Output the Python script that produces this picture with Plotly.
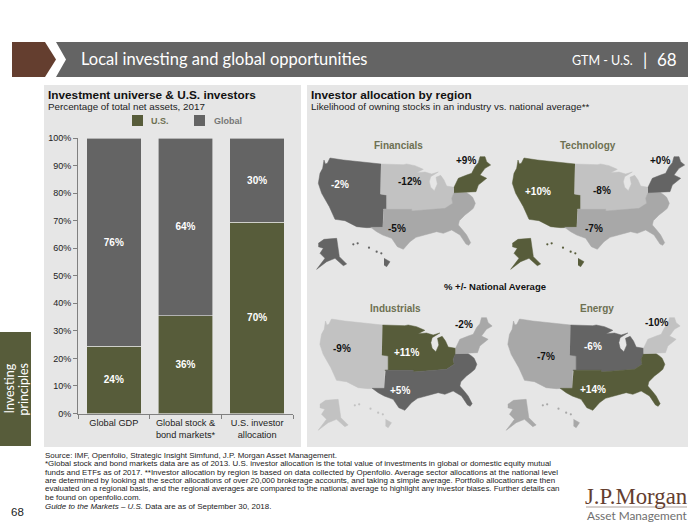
import plotly.graph_objects as go

W, H = 700, 525

# ---------- bar chart data ----------
categories = ["Global GDP", "Global stock &<br>bond markets*", "U.S. investor<br>allocation"]
us_share = [24.5, 35.5, 69.5]
global_share = [75.5, 64.5, 30.5]
us_labels = ["24%", "36%", "70%"]
global_labels = ["76%", "64%", "30%"]
y_ticks = list(range(0, 101, 10))

# ---------- map data: region scores ----------
sectors = ["Financials", "Technology", "Industrials", "Energy"]
regions = ["West", "Midwest", "South", "Northeast"]
financials = [-2, -12, -5, 9]
technology = [10, -8, -7, 0]
industrials = [-9, 11, 5, -2]
energy = [-7, -6, 14, -10]
region_scores = [financials, technology, industrials, energy]
score_labels = [["-2%", "-12%", "-5%", "+9%"], ["+10%", "-8%", "-7%", "+0%"],
                ["-9%", "+11%", "+5%", "-2%"], ["-7%", "-6%", "+14%", "-10%"]]

# ---------- map outlines (traced map units) ----------
west_x = [42, 46, 52, 60, 100, 150, 213, 211, 230, 230, 220, 218, 170, 140, 105, 75, 66, 58, 35, 25, 30, 38, 42]
west_y = [30, 42, 40, 24, 30, 36, 42, 132, 135, 178, 178, 232, 233, 230, 212, 208, 190, 170, 130, 100, 70, 55, 30]
midwest_x = [213, 280, 290, 315, 340, 320, 345, 365, 385, 362, 358, 362, 373, 382, 378, 392, 402, 410, 432, 432, 425, 428, 405, 370, 335, 305, 305, 220, 230, 230, 211]
midwest_y = [42, 44, 42, 47, 58, 68, 66, 72, 66, 80, 95, 112, 122, 102, 82, 76, 90, 108, 112, 130, 145, 160, 175, 178, 182, 183, 178, 178, 178, 135, 132]
south_x = [222, 305, 305, 370, 405, 428, 425, 432, 470, 480, 488, 496, 490, 478, 465, 448, 445, 458, 470, 482, 476, 468, 450, 425, 400, 380, 340, 318, 300, 288, 280, 262, 245, 218, 200, 182, 218]
south_y = [178, 178, 183, 178, 175, 160, 145, 128, 128, 135, 142, 160, 175, 185, 195, 212, 225, 240, 255, 278, 286, 282, 255, 240, 250, 245, 255, 262, 275, 290, 298, 290, 265, 255, 245, 232, 232]
northeast_x = [432, 438, 445, 470, 485, 495, 505, 510, 525, 530, 542, 525, 510, 530, 505, 498, 432]
northeast_y = [112, 98, 85, 75, 70, 50, 38, 20, 20, 35, 45, 55, 75, 85, 105, 125, 128]
alaska_x = [25, 42, 80, 88, 110, 100, 75, 50, 20, 45, 30, 40, 25]
alaska_y = [280, 268, 265, 320, 342, 347, 325, 335, 358, 325, 310, 295, 290]
hawaii_x = [222, 240, 230, 222]
hawaii_y = [325, 335, 350, 345]
island_x = [143, 177, 200, 214, 130]
island_y = [280, 293, 305, 310, 283]
outlines = {"West": (west_x, west_y), "Midwest": (midwest_x, midwest_y),
            "South": (south_x, south_y), "Northeast": (northeast_x, northeast_y)}

# ---------- colours ----------
OLIVE = "#575c3a"
DARK = "#646464"
MID = "#a8a8a8"
LIGHT = "#c2c2c2"
PANEL = "#e6e6e6"
BROWN = "#643e2f"
RANK_COLORS = [OLIVE, DARK, MID, LIGHT]
SANS = "Liberation Sans"
HEAD = "Lato"


def px(x):
    return x / W


def py(y):
    return 1 - y / H


def poly(points):
    return "M" + "L".join(f"{px(x):.5f},{py(y):.5f}" for x, y in points) + "Z"


def text(x, y, s, size=10, color="#000", bold=False, anchor="center", font=SANS, angle=0, yanchor="middle"):
    return dict(x=px(x), y=py(y), xref="paper", yref="paper", text=f"<b>{s}</b>" if bold else s,
                showarrow=False, xanchor=anchor, yanchor=yanchor, textangle=angle,
                font=dict(family=font, size=size, color=color), borderpad=0, borderwidth=0)


fig = go.Figure()

# ---------- stacked bars ----------
fig.add_bar(x=categories, y=us_share, name="U.S.", marker=dict(color=OLIVE, line=dict(color="#e6e6e6", width=0.6)),
            text=us_labels, textposition="inside", insidetextanchor="middle", constraintext="none",
            textfont=dict(family=SANS, size=10, color="white", weight="bold"), hoverinfo="skip",
            xaxis="x", yaxis="y", width=0.76, showlegend=False)
fig.add_bar(x=categories, y=global_share, name="Global", marker=dict(color=DARK, line=dict(color="#e6e6e6", width=0.6)),
            text=global_labels, textposition="inside", insidetextanchor="middle", constraintext="none",
            textfont=dict(family=SANS, size=10, color="white", weight="bold"), hoverinfo="skip",
            xaxis="x", yaxis="y", width=0.76, showlegend=False)

# ---------- four maps ----------
map_offset = [(310, 150), (504, 150), (311.5, 311), (499.5, 311)]
MAP_W, MAP_H = 190, 130
layout_axes = {}
for i, (sector, scores) in enumerate(zip(sectors, region_scores)):
    n = i + 2
    xa, ya = f"x{n}", f"y{n}"
    order = sorted(scores, reverse=True)
    colors = {r: RANK_COLORS[order.index(s)] for r, s in zip(regions, scores)}
    for r in regions:
        mx, my = outlines[r]
        fig.add_scatter(x=mx, y=my, mode="lines", fill="toself", fillcolor=colors[r],
                        line=dict(color=colors[r], width=0.5), showlegend=False, hoverinfo="skip",
                        xaxis=xa, yaxis=ya)
    for mx, my in [(alaska_x, alaska_y), (hawaii_x, hawaii_y)]:
        fig.add_scatter(x=mx, y=my, mode="lines", fill="toself", fillcolor=colors["West"],
                        line=dict(color=colors["West"], width=0.5), showlegend=False, hoverinfo="skip",
                        xaxis=xa, yaxis=ya)
    fig.add_scatter(x=island_x, y=island_y, mode="markers", marker=dict(color=colors["West"], size=2.2),
                    showlegend=False, hoverinfo="skip", xaxis=xa, yaxis=ya)
    ox, oy = map_offset[i]
    off = dict(visible=False, fixedrange=True)
    layout_axes[f"xaxis{n}"] = dict(domain=[px(ox), px(ox + MAP_W)], range=[0, 570], anchor=ya, **off)
    layout_axes[f"yaxis{n}"] = dict(domain=[py(oy + MAP_H), py(oy)], range=[390, 0], anchor=xa, **off)

# ---------- shapes ----------
shapes = [
    dict(type="path", xref="paper", yref="paper", layer="below", line_width=0, fillcolor=BROWN,
         path=poly([(12, 42), (45, 42), (56, 59.5), (45, 77), (12, 77)])),
    dict(type="path", xref="paper", yref="paper", layer="below", line_width=0, fillcolor=DARK,
         path=poly([(56, 42), (688, 42), (688, 77), (56, 77), (66, 59.5)])),
    dict(type="path", xref="paper", yref="paper", layer="below", line_width=0, fillcolor=PANEL,
         path=poly([(44, 85), (301, 85), (301, 447), (44, 447)])),
    dict(type="path", xref="paper", yref="paper", layer="below", line_width=0, fillcolor=PANEL,
         path=poly([(307, 85), (688, 85), (688, 447), (307, 447)])),
    dict(type="path", xref="paper", yref="paper", layer="below", line_width=0, fillcolor=OLIVE,
         path=poly([(0, 332), (31, 332), (31, 446), (0, 446)])),
    dict(type="line", xref="paper", yref="paper", x0=px(586), x1=px(687), y0=py(507), y1=py(507),
         line=dict(color="#8a7a70", width=0.7)),
    # legend swatches
    dict(type="path", xref="paper", yref="paper", layer="below", line_width=0, fillcolor=OLIVE,
         path=poly([(132, 115), (143, 115), (143, 126), (132, 126)])),
    dict(type="path", xref="paper", yref="paper", layer="below", line_width=0, fillcolor=DARK,
         path=poly([(194, 115), (205, 115), (205, 126), (194, 126)])),
]

# ---------- texts ----------
ann = [
    text(81, 59.5, "Local investing and global opportunities", 16.5, "white", anchor="left", font=HEAD),
    text(633, 61, "GTM - U.S.", 12.5, "white", anchor="right", font=HEAD),
    text(645, 59.5, "|", 17, "white", font=HEAD),
    text(677, 59.5, "68", 17, "white", anchor="right", font=HEAD),
    text(48, 95, "Investment universe &amp; U.S. investors", 11.8, "#111", True, "left"),
    text(48, 106, "Percentage of total net assets, 2017", 9.8, "#222", anchor="left"),
    text(151, 121, "U.S.", 9, "#6d7052", True, "left"),
    text(214, 121, "Global", 9, "#767676", True, "left"),
    text(311, 95, "Investor allocation by region", 11.8, "#111", True, "left"),
    text(311, 106, "Likelihood of owning stocks in an industry vs. national average**", 9.8, "#222", anchor="left"),
    text(495, 286, "% +/- National Average", 9.5, "#111", True),
    text(8.5, 389, "Investing", 12.5, "white", font=HEAD, angle=-90),
    text(22.5, 389, "principles", 12.5, "white", font=HEAD, angle=-90),
    text(17, 512, "68", 11.5, "#222"),
    text(636.5, 496, "J.P.Morgan", 22.8, BROWN, font="Liberation Serif"),
    text(636.5, 515, "Asset Management", 11.8, "#6e6e6e", font=HEAD),
]

sector_pos = [(398, 145), (587.5, 145), (395, 308.5), (596.5, 308.5)]
label_pos = [[(340, 184), (409, 181), (396.5, 228.5), (465.5, 160)],
             [(538, 191), (601.5, 190.7), (594, 228), (660, 160.7)],
             [(341.7, 348.7), (406.7, 352.7), (400, 390), (464.3, 324)],
             [(545.7, 356.7), (593.3, 346.7), (592.7, 389.3), (656, 322)]]
for i, sector in enumerate(sectors):
    ann.append(text(*sector_pos[i], sector, 10, "#6d7052", True))
    scores = region_scores[i]
    order = sorted(scores, reverse=True)
    for (x, y), s, lab, r in zip(label_pos[i], scores, score_labels[i], regions):
        on_dark = order.index(s) < 2 and r != "Northeast"
        ann.append(text(x, y, lab, 10, "white" if on_dark else "#111", True))

footnotes = [
    "Source: IMF, Openfolio, Strategic Insight Simfund, J.P. Morgan Asset Management.",
    "*Global stock and bond markets data are as of 2013. U.S. investor allocation is the total value of investments in global or domestic equity mutual",
    "funds and ETFs as of 2017. **Investor allocation by region is based on data collected by Openfolio. Average sector allocations at the national level",
    "are determined by looking at the sector allocations of over 20,000 brokerage accounts, and taking a simple average. Portfolio allocations are then",
    "evaluated on a regional basis, and the regional averages are compared to the national average to highlight any investor biases. Further details can",
    "be found on openfolio.com.",
    "<i>Guide to the Markets – U.S.</i> Data are as of September 30, 2018.",
]
foot_y = [455, 463, 472, 480, 488.5, 497, 506]
for s, y in zip(footnotes, foot_y):
    ann.append(text(44.5, y, s, 7.95, "#222", anchor="left"))

fig.update_layout(
    width=W, height=H, autosize=False, margin=dict(l=0, r=0, t=0, b=0, autoexpand=False),
    paper_bgcolor="white", plot_bgcolor="rgba(0,0,0,0)", barmode="stack", showlegend=False,
    shapes=shapes, annotations=ann,
    xaxis=dict(domain=[px(78), px(293)], anchor="y", tickson="boundaries", ticks="outside", ticklen=4,
               tickcolor="#808080", linecolor="#808080", linewidth=1, showline=True, showgrid=False,
               tickfont=dict(family=SANS, size=9.2, color="#222"), tickangle=0, fixedrange=True,
               range=[-0.5, 2.5], categoryorder="array", categoryarray=categories),
    yaxis=dict(domain=[py(413.5), py(138)], anchor="x", range=[0, 100], tickvals=y_ticks,
               ticktext=[f"{v}%" for v in y_ticks], ticks="outside", ticklen=4, tickcolor="#808080",
               linecolor="#808080", linewidth=1, showline=True, showgrid=False, zeroline=False,
               tickfont=dict(family=SANS, size=9, color="#222"), fixedrange=True),
    **layout_axes,
)
fig.write_html("out.html", config={"displayModeBar": False},
               post_script="document.body.style.margin='0';document.body.style.overflow='hidden';")
